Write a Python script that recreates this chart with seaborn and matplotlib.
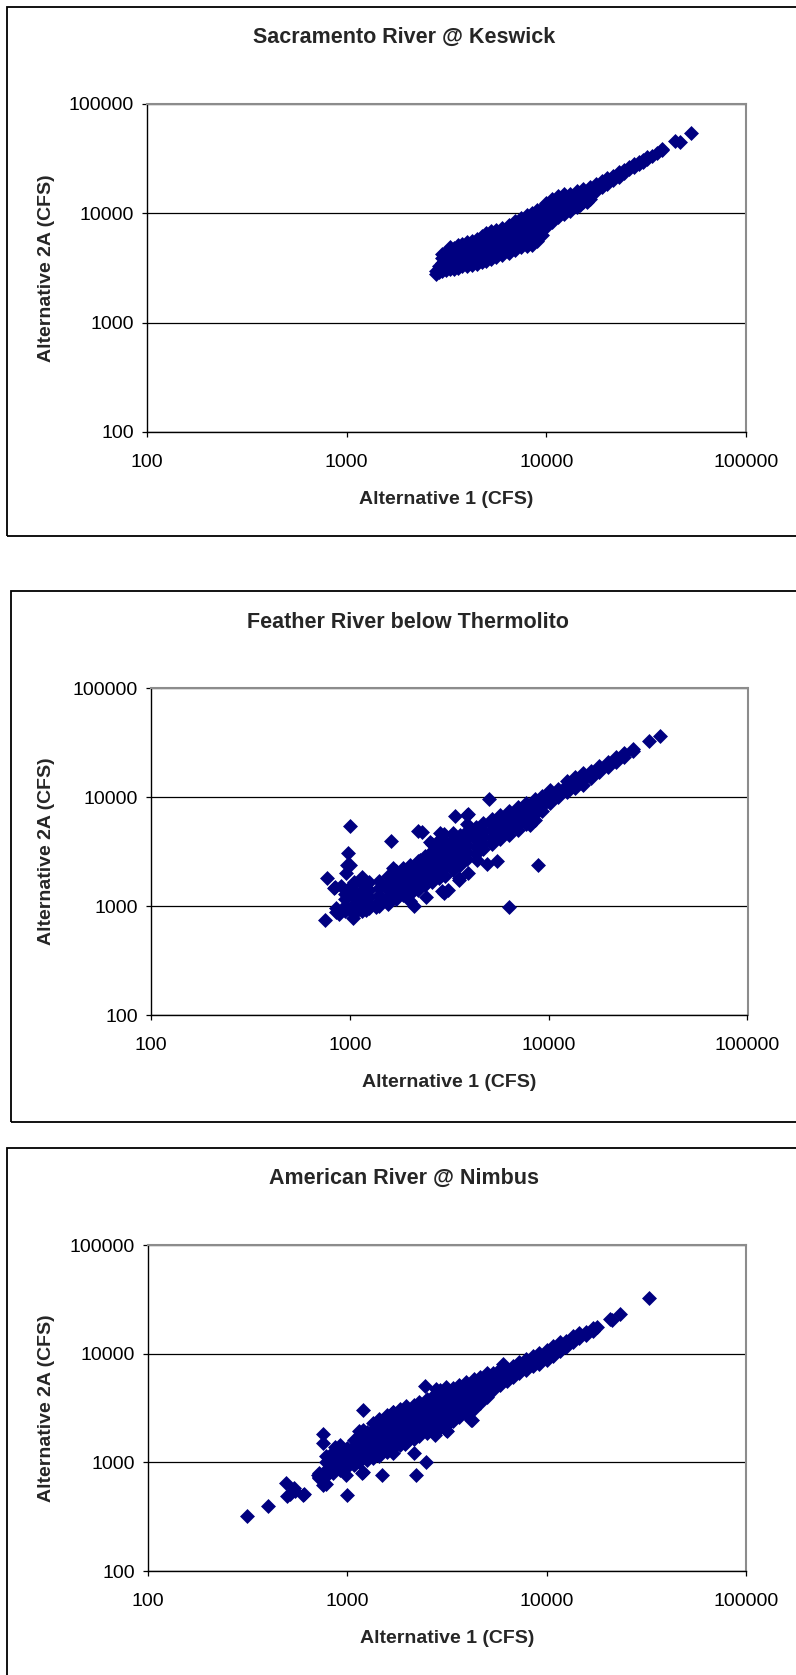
import matplotlib
matplotlib.use('Agg')

import matplotlib.pyplot as plt
from matplotlib.patches import Rectangle
from matplotlib.ticker import NullLocator
import seaborn as sns

sns.set_style("white")
plt.rcParams['font.family'] = ['Liberation Sans', 'DejaVu Sans']

# ---- data (CFS) ----
tick_values = [100, 1000, 10000, 100000]
tick_labels = ['100', '1000', '10000', '100000']

sac_title = 'Sacramento River @ Keswick'
sac_alt1 = [
    2800, 2800,
    2900, 2900, 2900,
    3000, 3000, 3000, 3000, 3000,
    3150, 3150, 3150, 3150, 3150,
    3300, 3300, 3300, 3300, 3300,
    3450, 3450, 3450, 3450, 3450,
    3600, 3600, 3600, 3600, 3600,
    3800, 3800, 3800, 3800, 3800,
    4000, 4000, 4000, 4000, 4000,
    4250, 4250, 4250, 4250, 4250,
    4500, 4500, 4500, 4500, 4500,
    4750, 4750, 4750, 4750, 4750,
    5000, 5000, 5000, 5000, 5000,
    5300, 5300, 5300, 5300, 5300,
    5600, 5600, 5600, 5600, 5600,
    6000, 6000, 6000, 6000, 6000,
    6500, 6500, 6500, 6500, 6500,
    7000, 7000, 7000, 7000, 7000,
    7500, 7500, 7500, 7500, 7500,
    8000, 8000, 8000, 8000, 8000,
    8500, 8500, 8500, 8500, 8500,
    9000, 9000, 9000, 9000, 9000,
    9500, 9500, 9500, 9500, 9500,
    10000, 10000, 10000, 10000, 10000,
    10700, 10700, 10700, 10700, 10700,
    11500, 11500, 11500, 11500, 11500,
    12300, 12300, 12300, 12300, 12300,
    13200, 13200, 13200, 13200,
    14200, 14200, 14200, 14200,
    15300, 15300, 15300, 15300,
    16500, 16500, 16500, 16500,
    17800, 17800, 17800,
    19000, 19000, 19000,
    20200, 20200, 20200,
    21500, 21500, 21500,
    23000, 23000, 23000,
    24500, 24500,
    26000, 26000,
    27500, 27500,
    29000, 29000,
    30500, 30500,
    32000, 32000,
    34000, 36000, 38000, 38000, 44000, 46500, 53000, 16000, 14700,
]
sac_alt2a = [
    2800, 2950,
    2900, 3100, 3300,
    2950, 3200, 3500, 3900, 4200,
    3000, 3300, 3600, 4000, 4400,
    3050, 3400, 3800, 4300, 4900,
    3100, 3450, 3900, 4400, 4800,
    3150, 3500, 4000, 4500, 5100,
    3250, 3650, 4100, 4600, 5200,
    3300, 3700, 4200, 4800, 5400,
    3350, 3800, 4300, 4900, 5600,
    3450, 3900, 4500, 5100, 5800,
    3550, 4000, 4600, 5300, 6200,
    3650, 4150, 4800, 5600, 6500,
    3800, 4300, 5000, 5800, 6800,
    3950, 4500, 5200, 6000, 7000,
    4150, 4700, 5400, 6300, 7300,
    4350, 5000, 5800, 6700, 7800,
    4600, 5300, 6200, 7200, 8400,
    4850, 5600, 6600, 7700, 9000,
    5000, 5900, 7000, 8300, 9500,
    5100, 6200, 7400, 8700, 10000,
    5600, 6600, 7800, 9200, 10600,
    6300, 7200, 8300, 9700, 11200,
    7400, 8400, 9500, 11000, 12300,
    8300, 9400, 10500, 12000, 13500,
    9200, 10300, 11500, 13000, 14300,
    9800, 11000, 12300, 13700, 14800,
    10500, 11800, 13200, 15000,
    11300, 12500, 14000, 15800,
    12500, 13800, 15300, 16500,
    13500, 14800, 16200, 17300,
    16000, 17300, 18400,
    17400, 18500, 19600,
    18500, 19600, 20700,
    20000, 21200, 22000,
    21500, 22500, 23500,
    23300, 24500,
    25000, 26200,
    26500, 27800,
    28000, 29300,
    29500, 30800,
    31200, 32300,
    33500, 35500, 37500, 38500, 45000, 44500, 54000, 12700, 11900,
]

fea_title = 'Feather River below Thermolito'
fea_alt1 = [
    # scattered low-flow months
    750, 770, 830, 900, 880, 1000, 980, 965, 1040, 843,
    977, 1200, 1350, 1620, 1650, 2200, 2300, 2250, 2530, 2840,
    2980, 3380, 3880, 3940, 5000, 6300, 8800, 8090, 5500, 4900,
    4370, 3940, 3560, 3520, 3130, 2980, 2900, 2420, 2100, 2000,
    3580, 1000, 960,
    # main band
    850, 850,
    950, 950, 950, 950,
    1050, 1050, 1050, 1050, 1050, 1050,
    1150, 1150, 1150, 1150, 1150, 1150,
    1250, 1250, 1250, 1250, 1250,
    1400, 1400, 1400, 1400, 1400,
    1550, 1550, 1550, 1550, 1550,
    1700, 1700, 1700, 1700, 1700,
    1850, 1850, 1850, 1850, 1850,
    2000, 2000, 2000, 2000, 2000,
    2200, 2200, 2200, 2200, 2200,
    2400, 2400, 2400, 2400, 2400,
    2600, 2600, 2600, 2600, 2600, 2600,
    2800, 2800, 2800, 2800, 2800, 2800,
    3000, 3000, 3000, 3000, 3000,
    3300, 3300, 3300, 3300, 3300, 3300,
    3600, 3600, 3600, 3600, 3600,
    3900, 3900, 3900, 3900, 3900, 3900,
    4300, 4300, 4300, 4300, 4300,
    4700, 4700, 4700, 4700, 4700,
    5200, 5200, 5200, 5200, 5200,
    5700, 5700, 5700, 5700, 5700,
    6300, 6300, 6300, 6300, 6300,
    7000, 7000, 7000, 7000, 7000,
    7700, 7700, 7700, 7700, 7700,
    8500, 8500, 8500, 8500, 8500,
    9300, 9300, 9300, 9300,
    10200, 10200, 10200, 10200,
    11200, 11200, 11200,
    12300, 12300, 12300, 12300,
    13500, 13500, 13500, 13500,
    14800, 14800, 14800, 14800,
    16300, 16300, 16300,
    18000, 18000, 18000,
    19800, 19800, 19800,
    21800, 21800, 21800,
    24000, 24000, 24000,
    26700, 26700,
    32000, 36300,
]
fea_alt2a = [
    740, 1790, 1460, 1540, 850, 5400, 3050, 2370, 770, 1490,
    1440, 915, 985, 3950, 2250, 4900, 4800, 2630, 3870, 4650,
    4600, 6700, 6870, 7050, 9500, 970, 2400, 5560, 2600, 2450,
    2660, 2000, 1800, 1720, 1390, 1330, 1370, 1210, 1000, 1100,
    3370, 2400, 2000,
    880, 950,
    900, 1000, 1150, 1300,
    850, 950, 1050, 1200, 1400, 1650,
    900, 1000, 1150, 1350, 1600, 1850,
    950, 1050, 1200, 1400, 1650,
    1000, 1100, 1250, 1450, 1700,
    1050, 1200, 1400, 1600, 1900,
    1150, 1300, 1500, 1750, 2100,
    1250, 1450, 1650, 1900, 2250,
    1300, 1550, 1800, 2050, 2400,
    1400, 1650, 1950, 2250, 2600,
    1550, 1800, 2100, 2450, 2900,
    1650, 1950, 2300, 2700, 3200, 3700,
    1800, 2100, 2500, 2950, 3500, 4000,
    1900, 2300, 2750, 3200, 3800,
    2150, 2550, 3000, 3500, 4100, 4700,
    2400, 2850, 3300, 3850, 4500,
    2700, 3100, 3600, 4200, 4900, 5600,
    3000, 3450, 4000, 4600, 5300,
    3300, 3800, 4400, 5000, 5800,
    3700, 4250, 4850, 5500, 6300,
    4100, 4700, 5300, 6000, 6800,
    4500, 5100, 5800, 6600, 7400,
    5000, 5700, 6400, 7200, 8100,
    5600, 6300, 7100, 7900, 8800,
    6200, 7000, 7800, 8700, 9600,
    7500, 8300, 9200, 10200,
    8800, 9700, 10600, 11500,
    10000, 10900, 11900,
    11000, 12000, 13000, 14000,
    12000, 13200, 14400, 15300,
    13000, 14200, 15400, 16500,
    14800, 16000, 17200,
    17000, 18200, 19300,
    19000, 20000, 21000,
    21000, 22200, 23400,
    23500, 24600, 25500,
    26300, 27500,
    32400, 36600,
]

ame_title = 'American River @ Nimbus'
ame_alt1 = [
    # scattered low-flow months
    315, 400, 493, 497, 516, 543, 547, 598, 608, 713,
    720, 754, 778, 754, 754, 863, 1000, 987, 1200, 1190,
    1200, 1500, 2220, 2470, 2170, 2460, 2790, 3130, 6030, 4190,
    4240, 3130, 3160, 2740, 1940, 1690, 1196, 1690, 1420,
    # main band
    720, 720,
    780, 780, 780, 780,
    850, 850, 850, 850,
    920, 920, 920, 920, 920,
    1000, 1000, 1000, 1000,
    1080, 1080, 1080, 1080, 1080,
    1150, 1150, 1150, 1150, 1150, 1150,
    1250, 1250, 1250, 1250, 1250,
    1350, 1350, 1350, 1350, 1350, 1350,
    1450, 1450, 1450, 1450, 1450, 1450,
    1580, 1580, 1580, 1580, 1580, 1580,
    1700, 1700, 1700, 1700, 1700, 1700,
    1830, 1830, 1830, 1830, 1830, 1830,
    1980, 1980, 1980, 1980, 1980, 1980,
    2150, 2150, 2150, 2150, 2150, 2150,
    2300, 2300, 2300, 2300, 2300, 2300,
    2500, 2500, 2500, 2500, 2500, 2500,
    2700, 2700, 2700, 2700, 2700, 2700,
    2900, 2900, 2900, 2900, 2900, 2900, 2900,
    3150, 3150, 3150, 3150, 3150, 3150,
    3400, 3400, 3400, 3400, 3400, 3400,
    3650, 3650, 3650, 3650, 3650, 3650,
    3950, 3950, 3950, 3950, 3950, 3950,
    4300, 4300, 4300, 4300, 4300, 4300,
    4650, 4650, 4650, 4650, 4650, 4650,
    5000, 5000, 5000, 5000, 5000, 5000,
    5400, 5400, 5400, 5400, 5400,
    5800, 5800, 5800, 5800, 5800,
    6300, 6300, 6300, 6300,
    6800, 6800, 6800, 6800,
    7300, 7300, 7300, 7300,
    7900, 7900, 7900, 7900,
    8500, 8500, 8500, 8500,
    9200, 9200, 9200, 9200,
    10000, 10000, 10000, 10000,
    10800, 10800, 10800, 10800,
    11600, 11600, 11600, 11600,
    12500, 12500, 12500,
    13600, 13600, 13600,
    14600, 14600, 14600,
    15800, 15800,
    17000, 17000,
    17800, 20700, 21200, 23300, 32700,
]
ame_alt2a = [
    320, 400, 640, 495, 509, 580, 547, 503, 509, 760,
    740, 620, 633, 1810, 1520, 1390, 500, 765, 3000, 794,
    815, 770, 765, 1000, 1210, 5070, 4720, 4890, 8000, 2430,
    2460, 1970, 1950, 1780, 1490, 1210, 1970, 2900, 1850,
    720, 800,
    750, 850, 1000, 1150,
    800, 900, 1050, 1250,
    850, 950, 1100, 1300, 1450,
    900, 1000, 1150, 1350,
    950, 1050, 1200, 1400, 1600,
    1000, 1150, 1300, 1500, 1750, 1950,
    1050, 1200, 1400, 1600, 1900,
    1100, 1250, 1450, 1700, 2000, 2300,
    1150, 1350, 1550, 1800, 2100, 2500,
    1250, 1450, 1700, 1950, 2300, 2700,
    1350, 1550, 1800, 2100, 2450, 2900,
    1450, 1650, 1950, 2250, 2600, 3100,
    1550, 1800, 2100, 2400, 2800, 3300,
    1650, 1900, 2200, 2550, 2950, 3400,
    1750, 2000, 2350, 2700, 3100, 3600,
    1850, 2150, 2500, 2900, 3300, 3800,
    1950, 2300, 2650, 3050, 3500, 4100,
    2050, 2400, 2800, 3250, 3700, 4300, 4600,
    2200, 2550, 3000, 3450, 3950, 4500,
    2400, 2750, 3200, 3700, 4200, 4800,
    2600, 3000, 3450, 3950, 4500, 5200,
    2800, 3250, 3700, 4200, 4800, 5500,
    3100, 3550, 4000, 4550, 5100, 5800,
    3500, 3950, 4400, 4900, 5500, 6100,
    4000, 4400, 4900, 5400, 6000, 6600,
    4600, 5000, 5500, 6000, 6600,
    5100, 5500, 6000, 6600, 7200,
    5600, 6100, 6600, 7200,
    6100, 6600, 7100, 7700,
    6600, 7100, 7700, 8300,
    7100, 7700, 8300, 8900,
    7700, 8300, 8900, 9500,
    8100, 8800, 9500, 10200,
    8800, 9500, 10200, 10900,
    9600, 10300, 11000, 11700,
    10600, 11300, 12000, 12800,
    11600, 12400, 13200,
    12800, 13600, 14400,
    13800, 14600, 15500,
    15000, 15900,
    16300, 17200,
    17600, 20900, 20500, 23000, 32600,
]

x_label = 'Alternative 1 (CFS)'
y_label = 'Alternative 2A (CFS)'

# ---- layout (pixels, measured from the top-left of the page) ----
W, H = 796, 1675
NAVY = '#000080'

panels = [
    dict(title=sac_title, x=sac_alt1, y=sac_alt2a,
         plot=(147, 103.5, 746, 432), box=(7.5, 7, 536), title_pos=(404, 37.5)),
    dict(title=fea_title, x=fea_alt1, y=fea_alt2a,
         plot=(151, 688, 747.5, 1015), box=(10.5, 591, 1121.5), title_pos=(408, 622.5)),
    dict(title=ame_title, x=ame_alt1, y=ame_alt2a,
         plot=(148, 1245, 746, 1571), box=(7.5, 1148, 1720), title_pos=(404, 1178)),
]

fig = plt.figure(figsize=(W / 100, H / 100), dpi=100)


def fx(px):
    return px / W


def fy(py):
    return 1 - py / H


for p in panels:
    left, top, right, bottom = p['plot']
    bx, btop, bbot = p['box']

    # chart area frame (runs off the right edge of the page)
    fig.add_artist(Rectangle((fx(bx), fy(bbot)), fx(900 - bx), (bbot - btop) / H,
                             transform=fig.transFigure, fill=False,
                             edgecolor='black', linewidth=1.3))

    ax = fig.add_axes([fx(left), fy(bottom), (right - left) / W, (bottom - top) / H])
    ax.set_xscale('log')
    ax.set_yscale('log')
    sns.scatterplot(x=p['x'], y=p['y'], ax=ax, marker='D', s=58,
                    color=NAVY, linewidth=0, zorder=3)
    ax.set_xlim(100, 100000)
    ax.set_ylim(100, 100000)

    ax.set_xticks(tick_values)
    ax.set_xticklabels(tick_labels)
    ax.set_yticks(tick_values)
    ax.set_yticklabels(tick_labels)
    ax.xaxis.set_minor_locator(NullLocator())
    ax.yaxis.set_minor_locator(NullLocator())
    ax.tick_params(axis='both', which='major', direction='out', length=3.6,
                   width=0.9, color='black', labelsize=14, labelcolor='black')
    ax.tick_params(axis='x', pad=12.5, bottom=True)
    ax.tick_params(axis='y', pad=6, left=True)

    ax.set_axisbelow(True)
    ax.xaxis.grid(False)
    ax.yaxis.grid(True, color='black', linewidth=0.9)

    for side in ['left', 'bottom']:
        ax.spines[side].set_color('black')
        ax.spines[side].set_linewidth(1.0)
    for side in ['top', 'right']:
        ax.spines[side].set_color('#8c8c8c')
        ax.spines[side].set_linewidth(1.5)

    ax.set_xlabel('')
    ax.set_ylabel('')

    tx, ty = p['title_pos']
    fig.text(fx(tx), fy(ty), p['title'], ha='center', va='center',
             fontsize=15.5, fontweight='bold')
    fig.text(fx((left + right) / 2), fy(bottom + 67.5), x_label,
             ha='center', va='center', fontsize=14, fontweight='bold')
    fig.text(fx(47), fy((top + bottom) / 2), y_label, rotation=90,
             ha='center', va='center', fontsize=14, fontweight='bold')

fig.savefig('out.png', dpi=100)
